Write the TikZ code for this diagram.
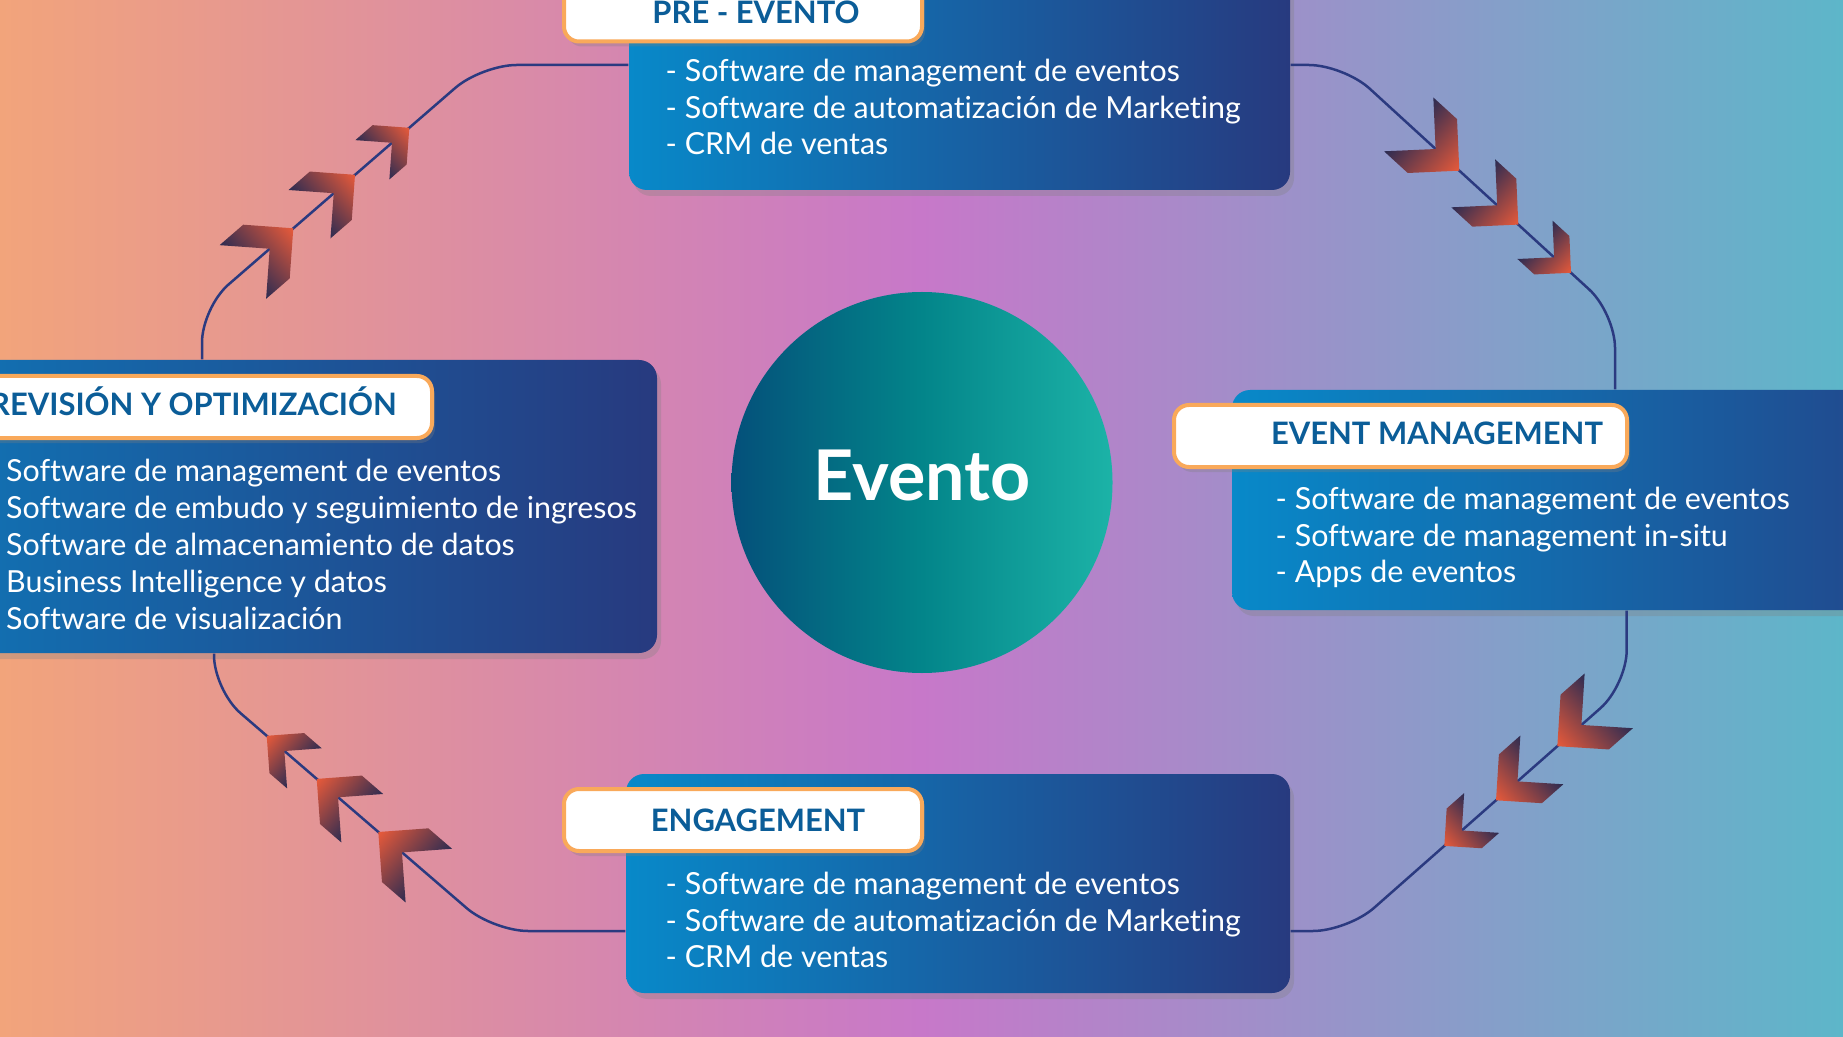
\documentclass[tikz,border=0pt]{standalone}
\usepackage{fontspec}
\setmainfont{Lato}[Ligatures=NoCommon]
\usetikzlibrary{shadows}
\definecolor{bgleft}{HTML}{F2A47B}
\definecolor{bgmid}{HTML}{C778C9}
\definecolor{bgright}{HTML}{5DB6C9}
\definecolor{boxleft}{HTML}{0889C9}
\definecolor{boxright}{HTML}{273A7F}
\definecolor{tabline}{HTML}{F9A95A}
\definecolor{tabtext}{HTML}{0B5D98}
\definecolor{hubleft}{HTML}{04507A}
\definecolor{hubmid}{HTML}{03858A}
\definecolor{hubright}{HTML}{1CB3A7}
\definecolor{flow}{HTML}{2B3A80}
\definecolor{chevred}{HTML}{E85A3A}
\definecolor{chevdark}{HTML}{2B2B52}
\tikzset{
  stagebox/.style={rounded corners=1.8mm, left color=boxleft, right color=boxright,
    inner sep=0, drop shadow={shadow xshift=.04, shadow yshift=-.06, opacity=.3}},
  stagetab/.style={rounded corners=1.5mm, fill=white, draw=tabline, line width=.4mm,
    minimum height=6.2mm, inner sep=0, drop shadow={shadow xshift=.03, shadow yshift=-.05, opacity=.3}},
  stagetitle/.style={text=tabtext, inner sep=0, font=\fontsize{8.8}{10}\selectfont\bfseries},
  toollist/.style={text=white, inner sep=0, align=left, anchor=west, font=\fontsize{8.65}{10.5}\selectfont},
  hub/.style={circle, minimum size=3.81cm, inner sep=0, left color=hubleft, right color=hubright,
    middle color=hubmid, text=white, text depth=1.5mm, font=\fontsize{19.9}{24}\selectfont\bfseries},
  flowline/.style={draw=flow, line width=.25mm, rounded corners=3.5mm},
  chevron/.pic={
    \pgfmathsetmacro\chw{0.88*#1}
    \shade[left color=chevdark, right color=chevred]
      (0,0) -- (-#1,#1) -- ({-#1-\chw},#1) -- (-\chw,0) -- ({-#1-\chw},-#1) -- (-#1,-#1) -- cycle;
  }
}
\begin{document}
\begin{tikzpicture}
  \useasboundingbox (0,0) rectangle (18.43,10.36);
  \clip (0,0) rectangle (18.43,10.36);
  \shade[left color=bgleft, right color=bgright, middle color=bgmid] (0,0) rectangle (18.43,10.36);

  % stage boxes
  \node[stagebox, minimum width=6.61cm, minimum height=2.2cm] (pre) at (9.595,9.56) {};
  \node[stagebox, minimum width=10cm, minimum height=2.93cm] (rev) at (1.57,5.295) {};
  \node[stagebox, minimum width=8cm, minimum height=2.2cm] (evm) at (16.32,5.36) {};
  \node[stagebox, minimum width=6.64cm, minimum height=2.19cm] (eng) at (9.58,1.525) {};

  % connectors
  \draw[flowline] ([yshift=1.5mm]pre.west) -- (4.817,9.71) -- (2.02,7.285) -- ([xshift=4.5mm]rev.north);
  \draw[flowline] ([yshift=1.5mm]pre.east) -- (13.438,9.71) -- (16.15,7.229) -- ([xshift=-1.7mm]evm.north);
  \draw[flowline] ([xshift=-.53mm]evm.south) -- (16.267,3.51) -- (13.478,1.05) -- ([yshift=-4.75mm]eng.east);
  \draw[flowline] ([yshift=-4.75mm]eng.west) -- (4.932,1.05) -- (2.14,3.457) -- ([xshift=5.7mm]rev.south);

  % chevrons along the connectors
  \foreach \cx/\cy/\ang/\sz in {2.933/8.077/40.9/.355, 3.55/8.612/40.9/.32, 4.093/9.082/40.9/.26,
      14.593/8.653/-42.45/.365, 15.183/8.114/-42.45/.325, 15.71/7.632/-42.45/.26,
      15.573/2.898/221.4/.365, 14.96/2.357/221.4/.325, 14.443/1.901/221.4/.265,
      3.783/2.04/139.2/.355, 3.167/2.571/139.2/.32, 2.667/3.002/139.2/.265}{
    \begin{scope}[transform canvas={shift={(\cx,\cy)}, rotate=\ang}]
      \pic {chevron=\sz};
    \end{scope}
  }

  % tabs and titles
  \node[stagetab, minimum width=3.58cm] (pretab) at (7.43,10.255) {};
  \node[stagetab, minimum width=5.3cm] (revtab) at (1.67,6.29) {};
  \node[stagetab, minimum width=4.53cm] (evmtab) at (14.005,6.0) {};
  \node[stagetab, minimum width=3.58cm] (engtab) at (7.43,2.16) {};
  \node[stagetitle] (pretitle) at (7.56,10.24) {PRE - EVENTO};
  \node[stagetitle, anchor=east] (revtitle) at (3.975,6.345) {REVISIÓN Y OPTIMIZACIÓN};
  \node[stagetitle] (evmtitle) at (14.37,6.03) {EVENT MANAGEMENT};
  \node[stagetitle] (engtitle) at (7.58,2.16) {ENGAGEMENT};

  % tool lists
  \node[toollist] (prelist) at (6.65,9.29) {- Software de management de eventos\\- Software de automatización de Marketing\\- CRM de ventas};
  \node[toollist] (revlist) at (.055,4.915) {Software de management de eventos\\Software de embudo y seguimiento de ingresos\\Software de almacenamiento de datos\\Business Intelligence y datos\\Software de visualización};
  \node[toollist] (evmlist) at (12.75,4.985) {- Software de management de eventos\\- Software de management in-situ\\- Apps de eventos};
  \node[toollist] (englist) at (6.65,1.16) {- Software de management de eventos\\- Software de automatización de Marketing\\- CRM de ventas};

  % centre
  \node[hub] (evento) at (9.22,5.535) {Evento};
\end{tikzpicture}
\end{document}
